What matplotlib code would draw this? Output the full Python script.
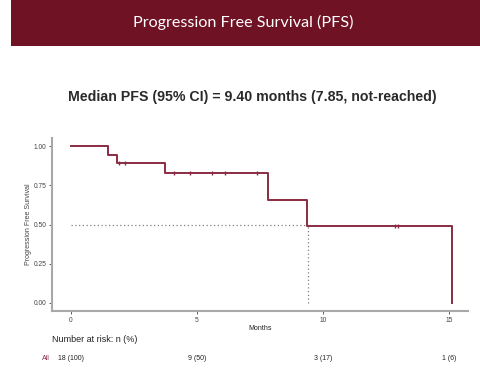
#plot.py


#COMMENT: Imports.

import matplotlib as mpl;
import matplotlib.pyplot as plt;
from matplotlib.patches import Rectangle;


#COMMENT: Data (Kaplan-Meier steps, censor marks, risk table).

eventTimes = [0.0, 1.47, 1.83, 3.73, 7.82, 9.37, 15.1];
survival = [1.0, 0.944, 0.889, 0.825, 0.656, 0.49, 0.0];

censorTimes = [1.9, 2.14, 4.09, 4.72, 5.6, 6.1, 7.38, 12.86, 12.98];
censorSurvival = [0.889, 0.889, 0.825, 0.825, 0.825, 0.825, 0.825, 0.49, 0.49];

medianTime = 9.40;
medianSurvival = 0.5;

xTicks = [0, 5, 10, 15];
yTicks = [0.00, 0.25, 0.50, 0.75, 1.00];
yTickLabels = ["0.00", "0.25", "0.50", "0.75", "1.00"];

riskTimes = [0, 5, 10, 15];
riskLabels = ["18 (100)", "9 (50)", "3 (17)", "1 (6)"];

bannerTitle = "Progression Free Survival (PFS)";
plotTitle = "Median PFS (95% CI) = 9.40 months (7.85, not-reached)";

darkRed = '#6F1224';
curveRed = '#8A2C44';
axisGrey = '#A8A8A8';


#COMMENT: Fonts.

mpl.rc('font', **{ 'family' : 'sans-serif', 'sans-serif' : ['Liberation Sans', 'DejaVu Sans'] });


#COMMENT: Figure at the reference size (481 x 376 px).

fig = plt.figure(figsize = (4.81, 3.76), dpi = 100);

#COMMENT: Banner across the top.

fig.patches.append(Rectangle((11 / 481, 1 - 46 / 376), 1 - 11 / 481, 46 / 376, transform = fig.transFigure, facecolor = darkRed, edgecolor = 'none', zorder = 0));
fig.text(243 / 481, 1 - 22 / 376, bannerTitle, color = 'white', fontsize = 11.6, family = ['Lato', 'DejaVu Sans'], ha = 'center', va = 'center');

#COMMENT: Chart title.

fig.text(252 / 481, 1 - 97 / 376, plotTitle, fontsize = 10.2, fontweight = 'bold', color = '#2A2A2A', ha = 'center', va = 'center');

#COMMENT: Axes.

ax = fig.add_axes([52 / 481, 1 - 311 / 376, 416 / 481, 173 / 376]);

ax.step(eventTimes, survival, where = 'post', color = curveRed, linewidth = 1.4, zorder = 3);
ax.plot(censorTimes, censorSurvival, linestyle = 'none', marker = '|', markersize = 3.5, markeredgewidth = 1.0, color = curveRed, zorder = 4);

#COMMENT: Median guide lines.

ax.plot([0, medianTime], [medianSurvival, medianSurvival], color = '#808080', linewidth = 0.9, linestyle = (0, (1, 2)), zorder = 2);
ax.plot([medianTime, medianTime], [0, medianSurvival], color = '#808080', linewidth = 0.9, linestyle = (0, (1, 2)), zorder = 2);

ax.set_xlim(-0.75, 15.75);
ax.set_ylim(-0.051, 1.051);

ax.set_xticks(xTicks);
ax.set_yticks(yTicks);
ax.set_yticklabels(yTickLabels);
ax.tick_params(axis = 'both', labelsize = 4.8, labelcolor = '#444444', color = '#444444', length = 2, width = 0.6, pad = 2);

for side in ['top', 'right']:
    ax.spines[side].set_visible(False);
for side in ['left', 'bottom']:
    ax.spines[side].set_color(axisGrey);
    ax.spines[side].set_linewidth(1.5);

ax.set_ylabel("Progression Free Survival", fontsize = 5, color = '#444444', labelpad = 1);
ax.set_xlabel("Months", fontsize = 5, color = '#222222', labelpad = 1);

#COMMENT: Number-at-risk table under the plot.

fig.text(52 / 481, 1 - 340 / 376, "Number at risk: n (%)", fontsize = 6.5, color = '#222222', ha = 'left', va = 'center');
fig.text(42 / 481, 1 - 359 / 376, "All", fontsize = 5, color = curveRed, ha = 'left', va = 'center');

for t, label in zip(riskTimes, riskLabels):
    xFig = (52 + (t + 0.75) / 16.5 * 416) / 481;
    if t == 0:
        fig.text(xFig - 13 / 481, 1 - 359 / 376, label, fontsize = 5, color = '#222222', ha = 'left', va = 'center');
    else:
        fig.text(xFig, 1 - 359 / 376, label, fontsize = 5, color = '#222222', ha = 'center', va = 'center');

#COMMENT: Save.

plt.savefig("out.png", format = 'png', dpi = 100);
plt.close();
